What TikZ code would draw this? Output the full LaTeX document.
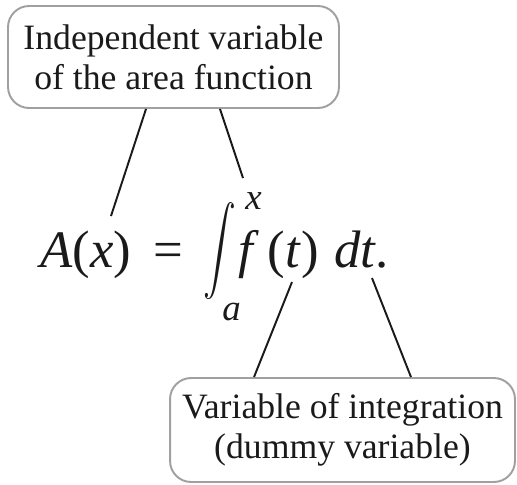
\documentclass[tikz,border=0pt]{standalone}
\usepackage{amsmath}
\usepackage{fontspec}
\setmainfont{Liberation Serif}[ItalicFont={Liberation Serif Italic}]
\usetikzlibrary{positioning,calc}
\definecolor{ink}    {HTML}{1A1A1A}
\definecolor{boxline}{HTML}{A0A0A0}
\newcommand{\vi}[1]{\textit{#1}}
\tikzset{
  % --- nodes
  lbox/.style = {rounded corners=12pt, draw=boxline, line width=1.1pt, fill=white,
                 align=center, inner sep=0pt, text=ink,
                 font=\fontsize{20.3}{22.7}\selectfont},
  eqn/.style  = {inner sep=0pt, text=ink, font=\fontsize{30}{34}\selectfont},
  lim/.style  = {inner sep=0pt, text=ink, font=\fontsize{21}{24}\selectfont\itshape},
  % --- edges
  lead/.style = {draw=ink, line width=1.1pt},
}
\begin{document}
\begin{tikzpicture}[x=0.02cm,y=-0.02cm]
  \useasboundingbox (0,0) rectangle (517,484);

  \node[lbox, minimum width=6.62cm, minimum height=2.04cm] (indep) at (173.5,57)
    {Independent variable\\of the area function};
  \node[lbox, minimum width=6.9cm, minimum height=2.08cm] (dummy) at (342.5,430)
    {Variable of integration\\(dummy variable)};

  % formula, pieces set on one baseline
  \node[eqn, anchor=base west] (lhs) at (40,267) {\vi{A}(\vi{x})};
  \node[eqn, anchor=base west] (eq) at (153,267) {=};
  \node[eqn, anchor=base west, xscale=0.75] (intg) at (203,262)
    {$\displaystyle\int$};
  \node[lim, anchor=base west] (upper) at (245,209) {x};
  \node[lim, anchor=base west] (lower) at (222,320) {a};
  \node[eqn, anchor=base west] (rhs) at (238,267) {\vi{f}\,(\vi{t})\hspace{0.3em}\vi{dt}.};

  \coordinate (ax)   at (111,216);
  \coordinate (xup)  at (243,178);
  \coordinate (tdn)  at (292,282);
  \coordinate (dtdn) at (372,278);

  \draw[lead] ([xshift=-0.55cm]indep.south) -- (ax);
  \draw[lead] ([xshift=0.93cm]indep.south) -- (xup);
  \draw[lead] (tdn) -- ([xshift=-1.77cm]dummy.north);
  \draw[lead] (dtdn) -- ([xshift=1.37cm]dummy.north);
\end{tikzpicture}
\end{document}
